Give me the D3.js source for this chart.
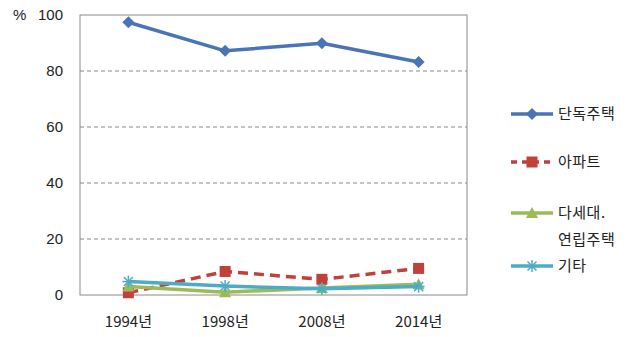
<!DOCTYPE html>
<html>
<head>
<meta charset="utf-8">
<script src="https://cdn.jsdelivr.net/npm/d3@7"></script>
<style>
  html, body { margin: 0; padding: 0; background: #fff; }
  svg text { font-family: "Noto Sans CJK KR", "Noto Sans", sans-serif; fill: #222; }
</style>
</head>
<body>
<svg id="chart" width="634" height="337"></svg>
<script>
// Housing type shares by survey year (%)
const years = ["1994년", "1998년", "2008년", "2014년"];
const detached = [97.4, 87.2, 89.9, 83.2];
const apartment = [0.8, 8.4, 5.6, 9.5];
const multiplex = [3.0, 1.0, 2.5, 3.8];
const others = [4.8, 3.2, 2.2, 3.0];
const yTicks = [0, 20, 40, 60, 80, 100];

const series = [
  { name: ["단독주택"], values: detached, color: "#4a74b5", dash: null, marker: "diamond" },
  { name: ["아파트"], values: apartment, color: "#c0403a", dash: "10,6", marker: "square" },
  { name: ["다세대.", "연립주택"], values: multiplex, color: "#9bbb59", dash: null, marker: "triangle" },
  { name: ["기타"], values: others, color: "#4bacc6", dash: null, marker: "star" }
];

const svg = d3.select("#chart");
const plot = { left: 80, right: 467, top: 15, bottom: 295 };

const x = d3.scaleBand().domain(years).range([plot.left, plot.right]);
const y = d3.scaleLinear().domain([0, 100]).range([plot.bottom, plot.top]);

// dashed horizontal gridlines
svg.append("g").selectAll("line")
  .data(yTicks.filter(t => t > 0 && t < 100))
  .join("line")
  .attr("x1", plot.left).attr("x2", plot.right)
  .attr("y1", d => y(d)).attr("y2", d => y(d))
  .attr("stroke", "#8a8a8a").attr("stroke-width", 1)
  .attr("stroke-dasharray", "4,3");

// plot frame
svg.append("rect")
  .attr("x", plot.left).attr("y", plot.top)
  .attr("width", plot.right - plot.left).attr("height", plot.bottom - plot.top)
  .attr("fill", "none").attr("stroke", "#8a8a8a").attr("stroke-width", 1);

// y axis labels
const yAxis = d3.axisLeft(y).tickValues(yTicks).tickSize(0).tickPadding(17);
const gy = svg.append("g").attr("transform", `translate(${plot.left},0)`).call(yAxis);
gy.select(".domain").remove();
gy.selectAll("text").attr("font-size", 15).attr("fill", "#222")
  .style("font-family", "'Liberation Sans', Arial, sans-serif");

svg.append("text").attr("x", 13).attr("y", y(100)).attr("dy", "0.35em")
  .attr("font-size", 15).style("font-family", "'Liberation Sans', Arial, sans-serif")
  .text("%");

// x axis labels
const xAxis = d3.axisBottom(x).tickSize(0).tickPadding(21);
const gx = svg.append("g").attr("transform", `translate(0,${plot.bottom})`).call(xAxis);
gx.select(".domain").remove();
gx.selectAll("text").attr("font-size", 15).attr("fill", "#222");

const cx = d => x(d) + x.bandwidth() / 2;

function drawMarker(g, type, color) {
  if (type === "diamond") {
    g.append("path").attr("d", "M0,-6L6,0L0,6L-6,0Z").attr("fill", color);
  } else if (type === "square") {
    g.append("rect").attr("x", -5.5).attr("y", -5.5).attr("width", 11).attr("height", 11).attr("fill", color);
  } else if (type === "triangle") {
    g.append("path").attr("d", "M0,-6L6,5L-6,5Z").attr("fill", color);
  } else if (type === "star") {
    const arms = [[-6, 0, 6, 0], [0, -6, 0, 6], [-4.5, -4.5, 4.5, 4.5], [-4.5, 4.5, 4.5, -4.5]];
    arms.forEach(a => g.append("line")
      .attr("x1", a[0]).attr("y1", a[1]).attr("x2", a[2]).attr("y2", a[3])
      .attr("stroke", color).attr("stroke-width", 1.5));
  }
}

const line = d3.line().x(d => cx(d.year)).y(d => y(d.value));

series.forEach(s => {
  const pts = years.map((yr, i) => ({ year: yr, value: s.values[i] }));
  svg.append("path").datum(pts)
    .attr("d", line)
    .attr("fill", "none").attr("stroke", s.color).attr("stroke-width", 3.5)
    .attr("stroke-linejoin", "round")
    .attr("stroke-dasharray", s.dash);
  pts.forEach(p => {
    const g = svg.append("g").attr("transform", `translate(${cx(p.year)},${y(p.value)})`);
    drawMarker(g, s.marker, s.color);
  });
});

// legend
const legendY = [114, 162, 213, 266];
series.forEach((s, i) => {
  const ly = legendY[i];
  svg.append("line").attr("x1", 511).attr("x2", 553).attr("y1", ly).attr("y2", ly)
    .attr("stroke", s.color).attr("stroke-width", 3.5)
    .attr("stroke-dasharray", s.dash ? "6,5" : null);
  const g = svg.append("g").attr("transform", `translate(532,${ly})`);
  drawMarker(g, s.marker, s.color);
  const t = svg.append("text").attr("font-size", 15).attr("fill", "#222")
    .attr("letter-spacing", 0.5);
  t.append("tspan").attr("x", 558).attr("y", ly).attr("dy", "0.35em").text(s.name[0]);
  if (s.name.length > 1) {
    t.append("tspan").attr("x", 558).attr("y", ly + 27).attr("dy", "0.35em").text(s.name[1]);
  }
});
</script>
</body>
</html>
